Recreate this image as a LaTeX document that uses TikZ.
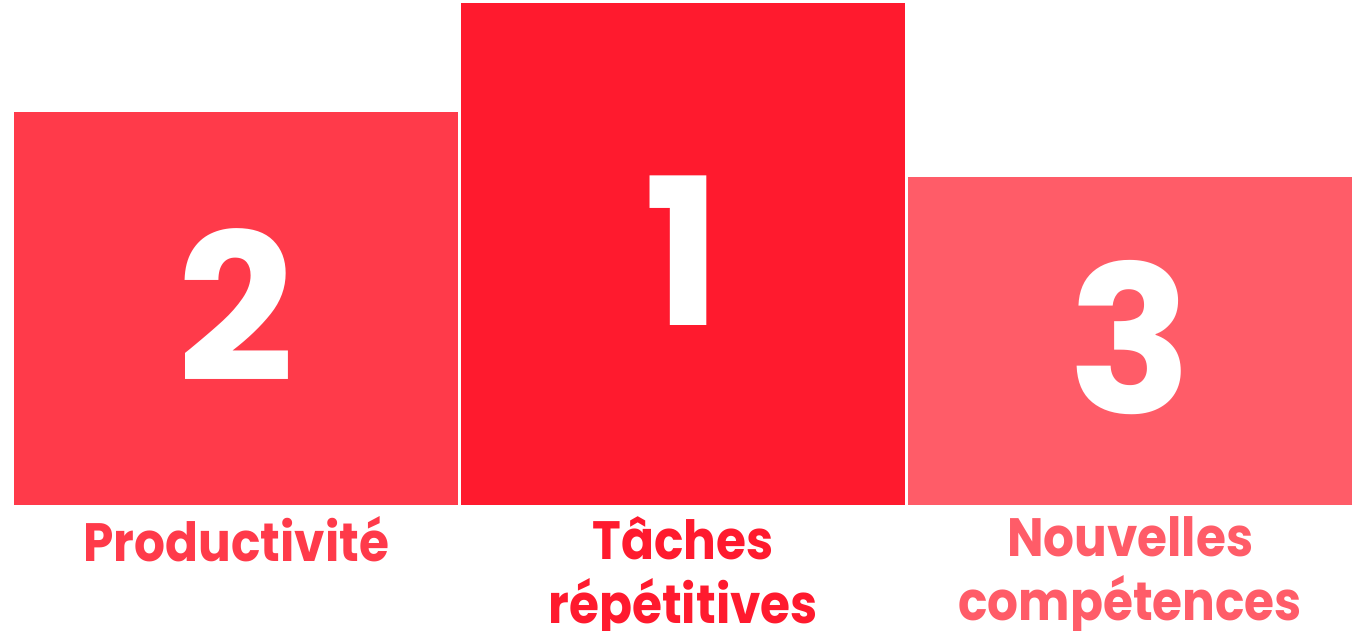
\documentclass[tikz,border=0pt]{standalone}
\usepackage{fontspec}
\setmainfont{Poppins}
\newfontfamily\podfont{Poppins}[FakeStretch=0.9]
\usetikzlibrary{positioning}
\definecolor{podtwo}{HTML}{FF3A4A}
\definecolor{podone}{HTML}{FF1A2E}
\definecolor{podthree}{HTML}{FF5C68}

\begin{document}
\begin{tikzpicture}[x=1pt, y=-1pt,
    block/.style={minimum width=444pt, inner sep=0pt, anchor=south west},
    rank/.style={text=white, inner sep=0pt, yshift=3pt, font=\fontsize{205}{205}\selectfont\bfseries},
    podlabel/.style={inner sep=0pt, align=center, font=\podfont\fontsize{54}{64}\selectfont\bfseries}]
    \useasboundingbox (0,0) rectangle (1359,630);

    % Podium blocks
    \node[block, fill=podtwo, minimum height=393pt] (second) at (14,505) {};
    \node[block, fill=podone, minimum height=502pt] (first) at (461,505) {};
    \node[block, fill=podthree, minimum height=328pt] (third) at (908,505) {};

    % Ranks
    \node[rank] (ranktwo) at (second.center) {2};
    \node[rank] (rankone) at (first.center) {1};
    \node[rank] (rankthree) at (third.center) {3};

    % Labels under the blocks
    \node[podlabel, text=podtwo, below=11pt of second] (prod) {Productivité};
    \node[podlabel, text=podone, below=11pt of first] (tasks) {Tâches\\répétitives};
    \node[podlabel, text=podthree, below=11pt of third] (skills) {Nouvelles\\compétences};
\end{tikzpicture}
\end{document}
